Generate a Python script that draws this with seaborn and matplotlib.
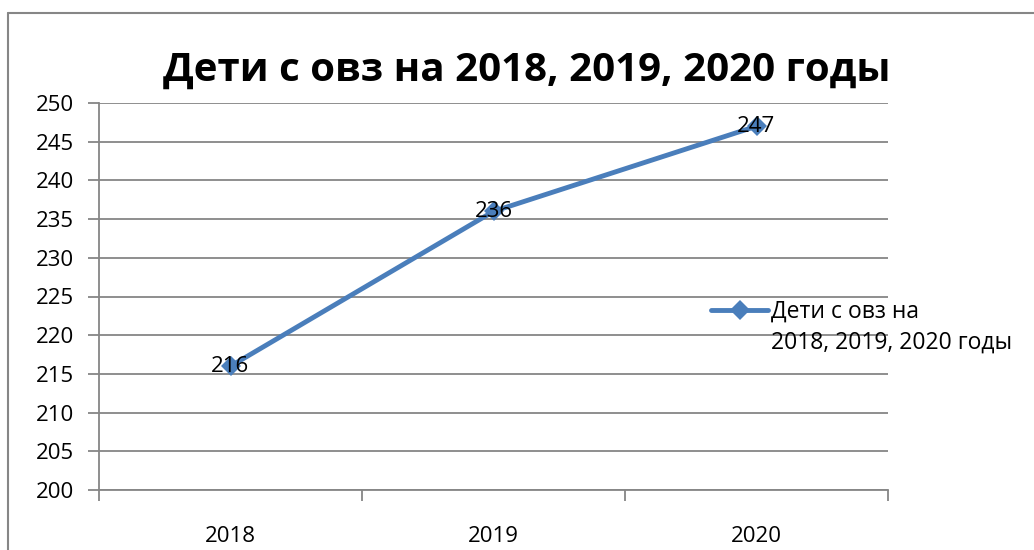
import matplotlib
matplotlib.use("Agg")
import matplotlib.pyplot as plt
import seaborn as sns
import pandas as pd
from matplotlib.lines import Line2D

years = ["2018", "2019", "2020"]
values = [216, 236, 247]
legend_line1 = "Дети с овз на"
legend_line2 = "2018, 2019, 2020 годы"
title = "Дети с овз на 2018, 2019, 2020 годы"
y_ticks = list(range(200, 251, 5))

sns.set_theme(style="white")
plt.rcParams['font.family'] = ['Open Sans', 'DejaVu Sans']
plt.rcParams['text.color'] = 'black'
plt.rcParams['xtick.color'] = 'black'
plt.rcParams['ytick.color'] = 'black'

df = pd.DataFrame({"year": years, "value": values})

W, H = 1034, 550
fig = plt.figure(figsize=(W / 100, H / 100), dpi=100)
ax = fig.add_axes([99 / W, 1 - 490 / H, (888 - 99) / W, (490 - 103) / H])

color = "#4A7EBB"
sns.lineplot(data=df, x="year", y="value", ax=ax, color=color, linewidth=3.5,
             marker="D", markersize=10, markeredgewidth=0, sort=False)

ax.set_xlim(-0.5, 2.5)
ax.set_ylim(200, 250)
ax.set_yticks(y_ticks)
ax.set_yticklabels([str(v) for v in y_ticks], fontsize=16)
ax.set_xticks(range(len(years)))
ax.set_xticklabels(years, fontsize=16)
ax.set_xlabel("")
ax.set_ylabel("")

grid_c = "#868686"
for v in y_ticks:
    ax.axhline(v, color=grid_c, linewidth=1.3, zorder=0)
for s in ["top", "right"]:
    ax.spines[s].set_visible(False)
for s in ["left", "bottom"]:
    ax.spines[s].set_color(grid_c)
    ax.spines[s].set_linewidth(1.3)

ax.tick_params(axis="y", which="major", length=8, color=grid_c, width=1.3, pad=10,
               left=True, labelcolor="black")
ax.tick_params(axis="x", which="major", length=0, pad=26, labelcolor="black")
ax.set_xticks([-0.5, 0.5, 1.5, 2.5], minor=True)
ax.tick_params(axis="x", which="minor", length=8, color=grid_c, width=1.3, bottom=True)

for i, v in enumerate(values):
    ax.text(i, v, str(v), ha="center", va="center", fontsize=16, color="black", zorder=5)

fig.suptitle(title, x=(160 + 893) / 2 / W, y=1 - 70 / H, va="center",
             fontsize=29, fontweight="bold", color="black")

handle = Line2D([], [], color=color, linewidth=3.5, marker="D", markersize=10, markeredgewidth=0)
leg = fig.legend([handle], [legend_line1], loc="center left",
                 bbox_to_anchor=(711 / W, 1 - 312 / H), frameon=False, fontsize=16.5,
                 handlelength=2.5, handletextpad=0.1, borderaxespad=0, borderpad=0)
for t in leg.get_texts():
    t.set_color("black")
fig.canvas.draw()
tb = leg.get_texts()[0].get_window_extent()
fig.text(tb.x0 / W, 1 - 343 / H, legend_line2, fontsize=16.5, va="center", ha="left",
         color="black")

border_c = "#868686"
fig.add_artist(Line2D([8 / W, 1], [1 - 13 / H, 1 - 13 / H], color=border_c, linewidth=1.5,
                      transform=fig.transFigure))
fig.add_artist(Line2D([8 / W, 8 / W], [0, 1 - 13 / H], color=border_c, linewidth=1.5,
                      transform=fig.transFigure))

fig.savefig("out.png", dpi=100)
